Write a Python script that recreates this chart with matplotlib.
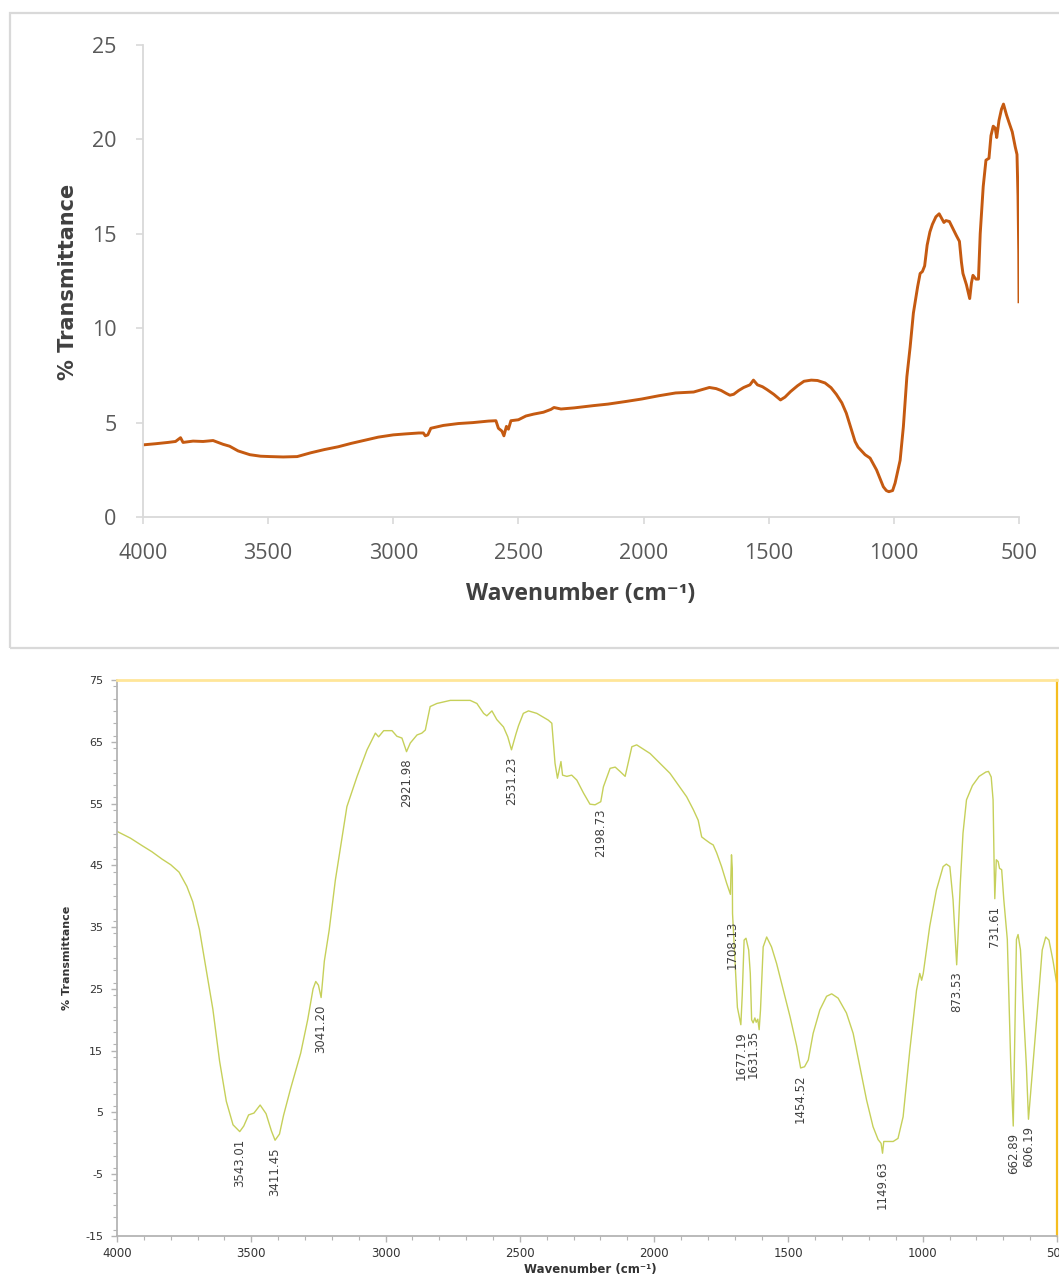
import numpy as np
import matplotlib
matplotlib.use("Agg")
import matplotlib.pyplot as plt
from matplotlib.patches import Rectangle
from matplotlib.ticker import MultipleLocator

plt.rcParams["axes.unicode_minus"] = False

# --- spectrum A (upper panel) ---
wn_a = [4000, 3950, 3900, 3870, 3850, 3840, 3800, 3760, 3720, 3700, 3680, 3654,
        3620, 3573, 3530, 3492, 3440, 3384, 3330, 3276, 3220, 3168, 3110, 3060,
        3000, 2952, 2898, 2880, 2872, 2862, 2850, 2800, 2740, 2682, 2620, 2590,
        2580, 2566, 2558, 2548, 2540, 2530, 2500, 2470, 2439, 2400, 2370, 2358,
        2330, 2277, 2200, 2142, 2070, 2007, 1940, 1872, 1830, 1800, 1765, 1737,
        1710, 1690, 1670, 1655, 1640, 1620, 1600, 1575, 1561, 1545, 1525, 1507,
        1480, 1453, 1435, 1413, 1385, 1359, 1330, 1305, 1275, 1251, 1230, 1208,
        1190, 1173, 1155, 1143, 1115, 1095, 1069, 1042, 1030, 1020, 1005, 995,
        975, 962, 948, 935, 922, 905, 895, 886, 877, 867, 856, 846, 832, 819,
        808, 800, 792, 778, 765, 750, 738, 730, 724, 710, 697, 690, 684, 672,
        662, 655, 643, 632, 620, 612, 603, 595, 589, 580, 570, 562, 550, 540,
        527, 515, 508, 504, 501, 500]
t_a = [3.82, 3.88, 3.95, 4.0, 4.2, 3.95, 4.02, 4.0, 4.05, 3.95, 3.85, 3.75,
       3.5, 3.3, 3.22, 3.2, 3.18, 3.2, 3.4, 3.57, 3.72, 3.9, 4.08, 4.23,
       4.35, 4.4, 4.45, 4.45, 4.3, 4.35, 4.7, 4.85, 4.95, 5.0, 5.08, 5.1,
       4.7, 4.55, 4.3, 4.8, 4.65, 5.1, 5.15, 5.35, 5.45, 5.55, 5.7, 5.8,
       5.72, 5.78, 5.9, 5.98, 6.12, 6.25, 6.42, 6.57, 6.6, 6.62, 6.75, 6.86,
       6.8, 6.7, 6.55, 6.45, 6.5, 6.7, 6.86, 7.0, 7.25, 7.0, 6.9, 6.75,
       6.5, 6.2, 6.35, 6.64, 6.95, 7.19, 7.25, 7.23, 7.1, 6.85, 6.5, 6.05,
       5.5, 4.78, 4.0, 3.7, 3.3, 3.12, 2.49, 1.6, 1.4, 1.34, 1.4, 1.8,
       3.0, 4.78, 7.43, 9.0, 10.8, 12.2, 12.9, 13.0, 13.3, 14.4, 15.1, 15.5, 15.9, 16.06,
       15.8, 15.6, 15.7, 15.65, 15.3, 14.9, 14.6, 13.5, 12.9, 12.3, 11.57, 12.4, 12.8, 12.6,
       12.6, 15.0, 17.5, 18.9, 19.0, 20.2, 20.7, 20.6, 20.1, 21.0, 21.6, 21.87, 21.3, 20.9,
       20.4, 19.6, 19.2, 17.0, 14.0, 11.4]

# --- spectrum B (lower panel) ---
wn_b = [4000, 3950, 3907, 3870, 3832, 3800, 3769, 3740, 3718, 3693, 3668, 3643,
        3618, 3593, 3568, 3543.01, 3528, 3510, 3490, 3467, 3445, 3425, 3411.45,
        3395, 3380, 3354, 3316, 3290, 3270, 3260, 3250, 3240, 3228, 3210, 3187,
        3144, 3106, 3069, 3038, 3026, 3007, 2976, 2958, 2939, 2921.98, 2908,
        2883, 2865, 2852, 2834, 2809, 2759, 2685, 2660, 2635, 2623, 2604, 2586,
        2561, 2545, 2531.23, 2515, 2505, 2487, 2468, 2437, 2394, 2381, 2369,
        2360, 2347, 2341, 2325, 2307, 2288, 2263, 2239, 2220, 2198.73, 2189,
        2164, 2145, 2127, 2108, 2083, 2065, 2015, 1941, 1879, 1854, 1836, 1823,
        1811, 1792, 1780, 1767, 1749, 1730, 1716, 1712, 1709, 1708.13, 1690,
        1677.19, 1672, 1665, 1658, 1648, 1642, 1637, 1631.35, 1625, 1620, 1614,
        1609, 1604, 1594, 1581, 1563, 1544, 1519, 1494, 1469, 1454.52, 1440,
        1426, 1408, 1383, 1358, 1339, 1315, 1284, 1259, 1234, 1209, 1185, 1166,
        1155, 1149.63, 1145, 1110, 1092, 1073, 1048, 1023, 1011, 1004, 998, 974,
        949, 924, 912, 899, 887, 873.53, 868, 860, 850, 837, 815, 790, 765, 755,
        745, 738, 734, 731.61, 726, 719, 714, 706, 698, 685, 679, 672, 662.89,
        657, 651, 645, 636, 627, 614, 606.19, 595, 575, 555, 542, 530, 515, 500]
t_b = [50.5, 49.4, 48.2, 47.2, 46.0, 45.1, 43.9, 41.6, 39.1, 34.6, 28.2, 21.7,
       13.3, 6.8, 3.0, 1.9, 2.8, 4.6, 4.9, 6.2, 4.8, 2.0, 0.5,
       1.5, 4.5, 8.8, 14.6, 20.0, 25.0, 26.2, 25.6, 23.6, 29.5, 34.5, 42.6,
       54.5, 59.4, 63.7, 66.4, 65.8, 66.8, 66.8, 65.9, 65.6, 63.4, 64.8,
       66.1, 66.4, 66.9, 70.7, 71.2, 71.7, 71.7, 71.2, 69.6, 69.2, 70.0, 68.6,
       67.4, 65.8, 63.7, 66.2, 67.6, 69.6, 70.0, 69.6, 68.5, 68.0, 61.5,
       59.1, 61.8, 59.6, 59.4, 59.6, 58.8, 56.7, 54.9, 54.8, 55.3, 57.7,
       60.7, 60.9, 60.2, 59.4, 64.2, 64.5, 63.1, 59.9, 56.1, 54.0, 52.3, 49.6,
       49.2, 48.6, 48.3, 47.0, 44.8, 42.1, 40.3, 46.7, 44.5, 37.2, 22.0,
       19.2, 24.0, 32.9, 33.2, 31.3, 27.5, 20.0, 19.5, 20.3, 19.6, 20.1,
       18.4, 21.6, 31.8, 33.4, 31.8, 29.1, 24.8, 20.5, 15.7, 12.2, 12.4,
       13.5, 17.8, 21.6, 23.8, 24.2, 23.5, 21.1, 17.8, 12.4, 7.0, 2.7, 0.6,
       0.0, -1.6, 0.3, 0.3, 0.8, 4.3, 15.1, 24.8, 27.5, 26.4, 27.5, 35.1,
       41.0, 44.8, 45.2, 44.8, 39.4, 28.9, 34.0, 42.1, 50.2, 55.6, 57.9, 59.4, 60.1, 60.2,
       59.3, 55.6, 44.8, 39.6, 45.9, 45.6, 44.5, 44.3, 39.4, 33.0, 23.3, 12.5, 2.8,
       17.9, 33.0, 33.8, 31.3, 23.3, 12.5, 3.9, 9.8, 20.5, 31.3, 33.4, 32.9, 29.6, 25.6]

# peak labels and the wavenumbers of the dips they mark
peak_labels = ["3543.01", "3411.45", "3041.20", "2921.98", "2531.23", "2198.73",
               "1708.13", "1677.19", "1631.35", "1454.52", "1149.63", "873.53",
               "731.61", "662.89", "606.19"]
peak_marks = [3543.01, 3411.45, 3240, 2921.98, 2531.23, 2198.73,
              1708.13, 1677.19, 1631.35, 1454.52, 1149.63, 873.53,
              731.61, 662.89, 606.19]

x_ticks = [4000, 3500, 3000, 2500, 2000, 1500, 1000, 500]

W, H = 1059, 1275
fig = plt.figure(figsize=(W / 100, H / 100), dpi=100)

# light frame around the upper chart
fig.patches.append(Rectangle((10 / W, 1 - 648 / H), 1.2, (648 - 13) / H,
                             transform=fig.transFigure, fill=False,
                             edgecolor="#d9d9d9", linewidth=1.6))

# ---------- upper panel ----------
ax1 = fig.add_axes([143 / W, 1 - 517 / H, (1019 - 143) / W, (517 - 45) / H])
ax1.plot(wn_a, t_a, color="#c55a11", lw=2.1, solid_joinstyle="round")
ax1.set_xlim(4000, 500)
ax1.set_ylim(0, 25)
ax1.set_xticks(x_ticks)
ax1.set_yticks(range(0, 26, 5))
for side in ("top", "right"):
    ax1.spines[side].set_visible(False)
for side in ("left", "bottom"):
    ax1.spines[side].set_color("#d9d9d9")
    ax1.spines[side].set_linewidth(1.3)
ax1.tick_params(colors="#d9d9d9", length=5, width=1.2, pad=14,
                labelcolor="#595959", labelsize=15.5)
for lab in ax1.get_xticklabels() + ax1.get_yticklabels():
    lab.set_family(["Open Sans", "DejaVu Sans"])

fig.text(68 / W, 1 - 282 / H, "% Transmittance", rotation=90, ha="center",
         va="center", fontsize=15, fontweight="bold", color="#404040")
fig.text(581 / W, 1 - 594 / H, "Wavenumber (cm\u207b\u00b9)", ha="center",
         va="center", fontsize=16.5, fontweight="bold", color="#404040",
         family=["Open Sans", "DejaVu Sans"])

# ---------- lower panel ----------
ax2 = fig.add_axes([117 / W, 1 - 1236 / H, (1057 - 117) / W, (1236 - 680) / H])
ax2.plot(wn_b, t_b, color="#c6d05a", lw=1.0)
ax2.set_xlim(4000, 500)
ax2.set_ylim(-15, 75)
ax2.set_xticks(x_ticks)
ax2.xaxis.set_minor_locator(MultipleLocator(100))
ax2.set_yticks(range(-15, 76, 10))
ax2.yaxis.set_minor_locator(MultipleLocator(2))
ax2.spines["top"].set_color("#ffe699")
ax2.spines["top"].set_linewidth(2.0)
ax2.spines["right"].set_color("#f5bd1f")
ax2.spines["right"].set_linewidth(1.6)
for side in ("left", "bottom"):
    ax2.spines[side].set_color("#b4b4b4")
    ax2.spines[side].set_linewidth(1.3)
ax2.tick_params(which="major", colors="#b4b4b4", length=4, width=1.0,
                labelcolor="#333333", labelsize=8)
ax2.tick_params(which="minor", colors="#b4b4b4", length=3, width=0.8)
ax2.tick_params(axis="y", pad=6)
ax2.tick_params(axis="x", pad=4, labelsize=8.5)

# label each dip just below its minimum
order = np.argsort(wn_b)
xs = np.asarray(wn_b)[order]
ys = np.asarray(t_b)[order]
for text, pos in zip(peak_labels, peak_marks):
    y = np.interp(pos, xs, ys)
    ax2.annotate(text, xy=(pos, y), xytext=(0, -5), textcoords="offset points",
                 rotation=90, ha="center", va="top", fontsize=8.5,
                 color="#404040")

fig.text(67 / W, 1 - 958 / H, "% Transmittance", rotation=90, ha="center",
         va="center", fontsize=8, fontweight="bold", color="#333333")
fig.text(590 / W, 1 - 1269 / H, "Wavenumber (cm\u207b\u00b9)", ha="center",
         va="center", fontsize=8.5, fontweight="bold", color="#333333")

fig.savefig("out.png", dpi=100)
